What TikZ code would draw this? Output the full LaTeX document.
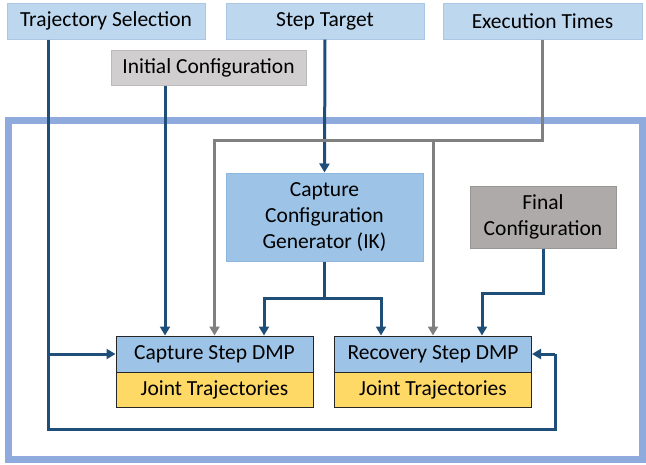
\documentclass[tikz,border=0pt]{standalone}
\usepackage{fontspec}
\setmainfont{Carlito}
\usetikzlibrary{arrows.meta}
\definecolor{lnblue}{HTML}{1F4E79}
\definecolor{lngray}{HTML}{808080}
\definecolor{frameblue}{HTML}{8FAADC}
\definecolor{topfill}{HTML}{BDD7EE}
\definecolor{topdraw}{HTML}{A9C6E3}
\definecolor{icfill}{HTML}{D0CECE}
\definecolor{icdraw}{HTML}{BCBABA}
\definecolor{midfill}{HTML}{9DC3E6}
\definecolor{middraw}{HTML}{8DB6DD}
\definecolor{fcfill}{HTML}{AEAAAA}
\definecolor{fcdraw}{HTML}{999595}
\definecolor{jtfill}{HTML}{FFD966}
\tikzset{
  box/.style={inner sep=0pt, line width=1pt, align=center,
    font=\fontsize{21.5}{26}\selectfont},
  topbox/.style={box, fill=topfill, draw=topdraw, minimum width=198pt, minimum height=36pt},
  icbox/.style={box, fill=icfill, draw=icdraw, minimum width=195pt, minimum height=35pt},
  ccgbox/.style={box, fill=midfill, draw=middraw, minimum width=197pt, minimum height=88pt},
  fcbox/.style={box, fill=fcfill, draw=fcdraw, minimum width=146pt, minimum height=62pt},
  dmpbox/.style={box, fill=midfill, draw=black!85, minimum width=197pt, minimum height=36pt},
  jtbox/.style={box, fill=jtfill, draw=black!85, minimum width=197pt, minimum height=35pt},
  tip/.style={-{Triangle[length=9pt,width=10pt]}},
  bline/.style={draw=lnblue, line width=3pt},
  gline/.style={draw=lngray, line width=3pt},
}
\begin{document}
\begin{tikzpicture}[x=1pt,y=-1pt]
\useasboundingbox (0,0) rectangle (646,464);
% outer frame
\draw[frameblue, line width=7pt] (8,120) rectangle (642,459);

% nodes
\node[topbox] (ts) at (106,21) {Trajectory Selection};
\node[topbox] (st) at (325,21) {Step Target};
\node[topbox, minimum width=199pt] (et) at (542.5,21) {Execution Times};
\node[icbox] (ic) at (208.5,67.5) {Initial Configuration};
\node[ccgbox] (ccg) at (324.5,217) {Capture\\Configuration\\Generator (IK)};
\node[fcbox] (fc) at (543,217) {Final\\Configuration};
\node[dmpbox] (capT) at (214.5,354) {Capture Step DMP};
\node[jtbox] (capB) at (214.5,389.5) {Joint Trajectories};
\node[dmpbox] (recT) at (433,354) {Recovery Step DMP};
\node[jtbox] (recB) at (433,389.5) {Joint Trajectories};

% helper coordinates
\coordinate (xL) at (48,0);
\coordinate (xI) at (165,0);
\coordinate (fb) at (555,429);
\coordinate (gy) at (0,140);
\coordinate (sy) at (0,298);
\coordinate (xA) at (264,0);
\coordinate (xB) at (381,0);
\coordinate (by) at (0,293);
\coordinate (xF) at (482,0);

% blue connectors
\draw[bline] (ts.south -| xL) |- (fb) -- (fb |- recT.east);
\draw[bline, tip] (fb |- recT.east) -- (recT.east);
\draw[bline, tip] (ts.south -| xL) |- (capT.west);
\draw[bline, tip] (ic.south -| xI) -- (capT.north -| xI);
\draw[bline, tip] (st.south) -- (ccg.north);
\draw[bline] (ccg.south) -- (ccg.south |- sy);
\draw[bline, tip] (ccg.south |- sy) -| (capT.north -| xA);
\draw[bline, tip] (ccg.south |- sy) -| (recT.north -| xB);
\draw[bline, tip] (fc.south) |- (by -| xF) -- (recT.north -| xF);

% gray connectors
\draw[gline, tip] (et.south) |- (capT.north |- gy) -- (capT.north);
\draw[gline, tip] (recT.north |- gy) -- (recT.north);
\end{tikzpicture}
\end{document}
